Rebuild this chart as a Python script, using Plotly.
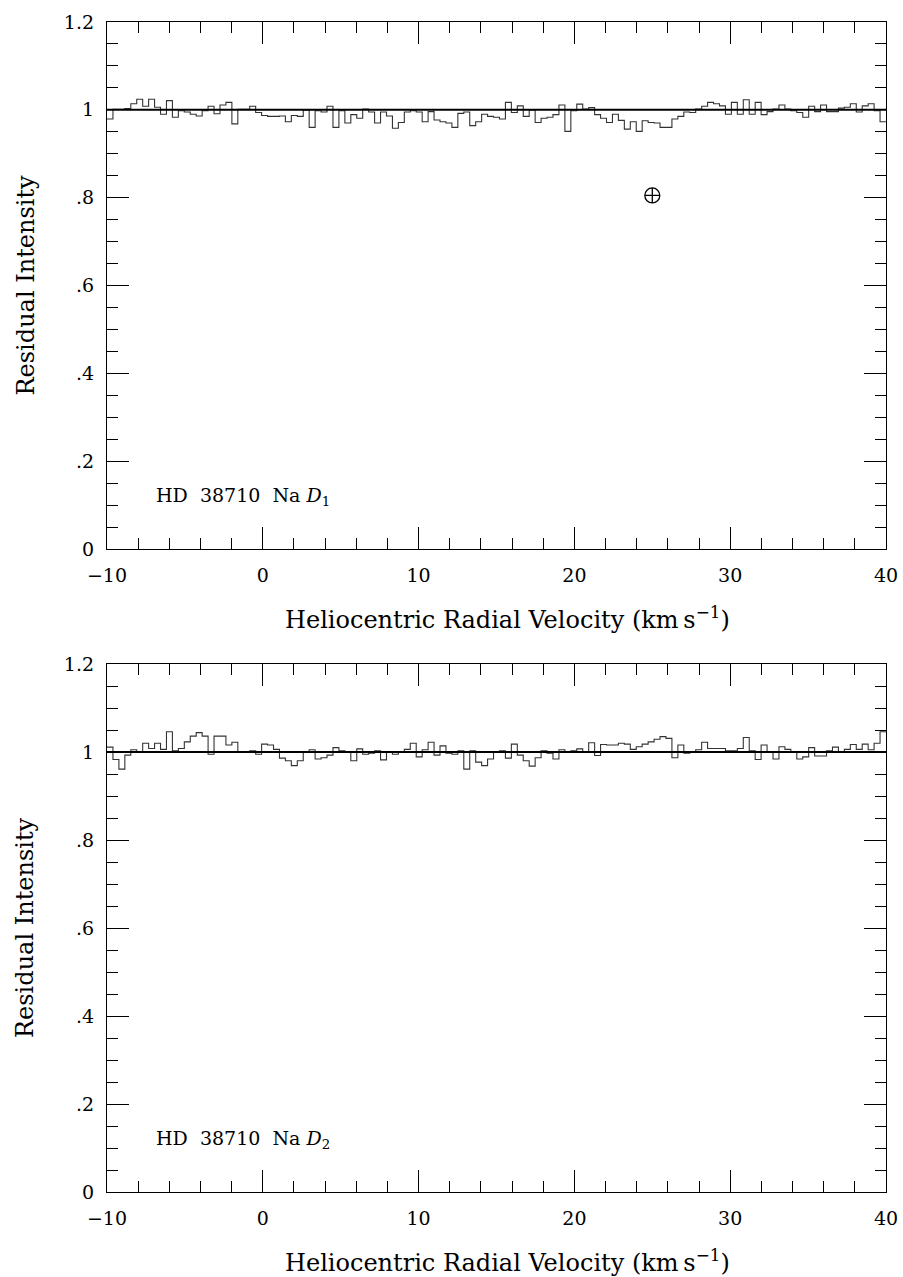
import plotly.graph_objects as go

# ---------------- data ----------------
v_start = -10.0
v_end = 40.0

d1_intensity = [
    0.979, 1.001, 1.001, 1.003, 1.014, 1.024, 1.008, 1.024, 1.006, 0.990,
    1.021, 0.983, 0.998, 0.995, 0.990, 0.986, 0.998, 1.008, 0.991, 1.011,
    1.017, 0.968, 1.001, 1.001, 1.008, 0.994, 0.987, 0.985, 0.985, 0.986,
    0.973, 0.987, 0.985, 1.000, 0.960, 0.998, 0.995, 1.008, 0.960, 0.998,
    0.970, 0.989, 0.981,
    1.002, 0.995, 0.970, 0.995, 0.986, 0.958, 0.971, 0.995, 0.998, 0.995,
    0.973, 0.996, 0.977, 0.973, 0.970, 0.960, 0.992, 0.995, 0.964, 0.973,
    0.990, 0.985, 0.983, 0.979, 1.017, 0.994, 1.009, 0.985, 1.000, 0.971,
    0.981, 0.983, 0.989, 1.011, 0.951, 0.998, 1.013, 1.002, 1.005, 0.989,
    0.981, 0.971, 0.990, 0.976,
    0.956, 0.973, 0.951, 0.975, 0.971, 0.970, 0.960, 0.960, 0.979, 0.985,
    0.995, 0.994, 1.002, 1.008, 1.017, 1.014, 1.009, 0.990, 1.017, 0.990,
    1.023, 0.990, 1.017, 0.989, 0.996, 1.002, 1.011, 1.002, 0.998, 0.994,
    0.983, 1.008, 0.996, 1.011, 0.996, 0.996, 1.004, 1.006, 1.014, 0.995,
    1.009, 1.014, 0.998, 0.973,
]

d2_intensity = [
    1.011, 0.983, 0.961, 0.993, 1.005, 0.999, 1.020, 1.008, 1.020, 1.006,
    1.046, 1.003, 1.008, 1.023, 1.036, 1.044, 1.036, 0.995, 1.036, 1.036,
    1.016, 1.022, 0.999, 0.999, 1.003, 0.995, 1.018, 1.016, 1.006, 0.986,
    0.980, 0.969, 0.980, 0.999, 1.005, 0.984, 0.987, 0.993, 1.010, 1.003,
    0.999, 0.980, 1.007,
    0.995, 0.997, 1.003, 0.982, 0.999, 0.995, 0.999, 1.006, 1.020, 0.989,
    1.005, 1.022, 0.993, 1.014, 0.997, 0.995, 1.003, 0.961, 1.003, 0.977,
    0.969, 0.984, 0.999, 1.003, 0.986, 1.018, 0.993, 0.980, 0.968, 0.987,
    1.003, 0.997, 0.984, 1.005, 0.999, 1.003, 1.007, 0.999, 1.021, 0.992,
    1.017, 1.016, 1.016, 1.020,
    1.018, 1.006, 1.012, 1.018, 1.023, 1.029, 1.035, 1.031, 0.987, 1.016,
    0.997, 0.999, 1.005, 1.022, 1.008, 1.008, 1.008, 1.003, 1.003, 1.008,
    1.033, 1.003, 0.983, 1.016, 0.999, 0.984, 1.012, 1.006, 1.001, 0.984,
    0.989, 1.010, 0.991, 0.991, 1.003, 1.011, 1.001, 1.006, 1.017, 1.006,
    1.018, 1.005, 1.020, 1.046,
]

continuum = [1.0, 1.0]
earth_v = [25.0]
earth_i = [0.805]

x_tickvals = [-10, 0, 10, 20, 30, 40]
x_ticktext = ["\u221210", "0", "10", "20", "30", "40"]
y_tickvals = [0, 0.2, 0.4, 0.6, 0.8, 1.0, 1.2]
y_ticktext = ["0", ".2", ".4", ".6", ".8", "1", "1.2"]

panel_labels = ["HD  38710  Na <i>D</i><sub>1</sub>", "HD  38710  Na <i>D</i><sub>2</sub>"]

# ---------------- figure ----------------
FONT = "DejaVu Serif"
W, H = 903, 1277


def edges_for(vals):
    n = len(vals)
    w = (v_end - v_start) / n
    xs = [v_start + i * w for i in range(n)] + [v_end]
    ys = list(vals) + [vals[-1]]
    return xs, ys


fig = go.Figure()

panels = [
    (d1_intensity, "x", "y"),
    (d2_intensity, "x2", "y2"),
]

for vals, xa, ya in panels:
    xs, ys = edges_for(vals)
    fig.add_trace(go.Scatter(x=xs, y=ys, mode="lines", line=dict(color="#333333", width=1.1, shape="hv"),
                             xaxis=xa, yaxis=ya, showlegend=False, hoverinfo="skip"))
    fig.add_trace(go.Scatter(x=[v_start, v_end], y=continuum, mode="lines",
                             line=dict(color="black", width=2), xaxis=xa, yaxis=ya,
                             showlegend=False, hoverinfo="skip"))

fig.add_trace(go.Scatter(x=earth_v, y=earth_i, mode="markers",
                         marker=dict(symbol="circle-cross-open", size=15, color="black", line=dict(width=1.3)),
                         xaxis="x", yaxis="y", showlegend=False, hoverinfo="skip"))

xdom = [107 / W, 886 / W]
common_x = dict(range=[v_start, v_end], tickvals=x_tickvals, ticktext=x_ticktext, ticks="inside",
                ticklen=22, tickwidth=1, tickcolor="black", showline=True, linecolor="black", linewidth=1.3,
                mirror="allticks", showgrid=False, zeroline=False, automargin=False,
                tickfont=dict(family=FONT, size=19, color="black"), ticklabelstandoff=9,
                minor=dict(dtick=2, tick0=0, ticks="inside", ticklen=11, tickwidth=1, tickcolor="black", showgrid=False))
common_y = dict(range=[0, 1.2], tickvals=y_tickvals, ticktext=y_ticktext, ticks="inside",
                ticklen=22, tickwidth=1, tickcolor="black", showline=True, linecolor="black", linewidth=1.3,
                mirror="allticks", showgrid=False, zeroline=False, automargin=False,
                tickfont=dict(family=FONT, size=19, color="black"), ticklabelstandoff=8,
                minor=dict(dtick=0.05, tick0=0, ticks="inside", ticklen=11, tickwidth=1, tickcolor="black", showgrid=False))

fig.update_layout(
    width=W, height=H, margin=dict(l=0, r=0, t=0, b=0, autoexpand=False),
    paper_bgcolor="white", plot_bgcolor="white",
    xaxis=dict(domain=xdom, anchor="y", **common_x),
    yaxis=dict(domain=[1 - 549 / H, 1 - 22 / H], anchor="x", **common_y),
    xaxis2=dict(domain=xdom, anchor="y2", **common_x),
    yaxis2=dict(domain=[1 - 1192 / H, 1 - 664 / H], anchor="x2", **common_y),
)

annos = []
for k, (top, bot) in enumerate([(22, 549), (664, 1192)]):
    xref = "x" if k == 0 else "x2"
    yref = "y" if k == 0 else "y2"
    annos.append(dict(text=panel_labels[k], x=-7.0, y=0.12, xref=xref, yref=yref, xanchor="left", yanchor="middle",
                      showarrow=False, font=dict(family=FONT, size=19, color="black")))
    annos.append(dict(text="Residual Intensity", x=25 / W, y=1 - ((top + bot) / 2) / H, xref="paper", yref="paper",
                      textangle=-90, showarrow=False, xanchor="center", yanchor="middle",
                      font=dict(family=FONT, size=24, color="black")))
    annos.append(dict(text="Heliocentric Radial Velocity (km\u2009s<sup>\u22121</sup>)", x=507 / W,
                      y=1 - (bot + 69) / H, xref="paper", yref="paper", showarrow=False,
                      xanchor="center", yanchor="middle", font=dict(family=FONT, size=24, color="black")))
fig.update_layout(annotations=annos)

fig.write_html("out.html")
